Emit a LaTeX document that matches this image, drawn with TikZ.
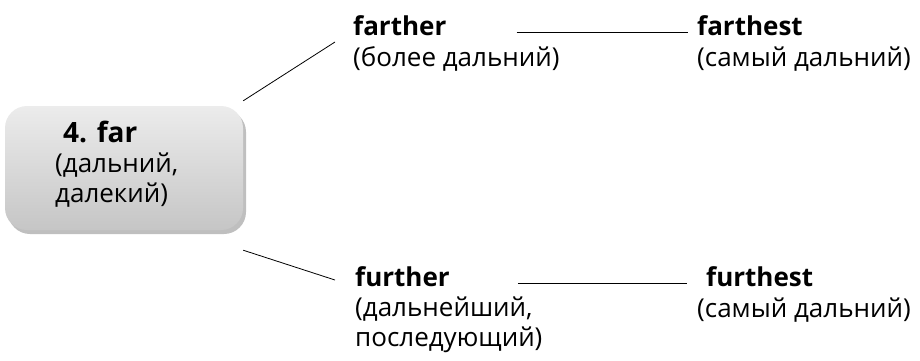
\documentclass[tikz,border=0pt]{standalone}
\usepackage{fontspec}
\setmainfont{Open Sans}
\usetikzlibrary{shadows}

\begin{document}
\begin{tikzpicture}[x=1pt,y=-1pt,
    word/.style={anchor=base west,inner sep=0pt,font=\fontsize{26}{30}\selectfont\bfseries},
    gloss/.style={anchor=base west,inner sep=0pt,align=left,font=\fontsize{26}{30}\selectfont},
    link/.style={line width=0.8pt},
    bar/.style={line width=1.6pt}]
        \useasboundingbox (0,0) rectangle (920,360);
        % adjective in the box
        \node[draw=none,rounded corners=22pt,top color=gray!15,bottom color=gray!45,
              drop shadow={shadow xshift=3pt,shadow yshift=-4pt,opacity=0.5},
              minimum width=238pt,minimum height=124pt] (far) at (124,168) {};
        \node[word,font=\fontsize{28}{30}\selectfont\bfseries] (farword) at (63,142) {4. far};
        \node[gloss] (fargloss) at (55,202) {(дальний,\\далекий)};
        % upper branch
        \node[word] (farther) at (353,35) {farther};
        \node[gloss] (farthergloss) at (353,66) {(более дальний)};
        \node[word] (farthest) at (697,35) {farthest};
        \node[gloss] (farthestgloss) at (697,66) {(самый дальний)};
        % lower branch
        \node[word] (further) at (355,286) {further};
        \node[gloss] (furthergloss) at (355,346) {(дальнейший,\\последующий)};
        \node[word] (furthest) at (706,286) {furthest};
        \node[gloss] (furthestgloss) at (697,317) {(самый дальний)};
        % connectors
        \draw[link] (far.north east) ++(0,-5) -- ([xshift=-18pt,yshift=-7pt]farther.base west);
        \draw[link] (far.south east) ++(0,20) -- ([xshift=-20pt,yshift=6pt]further.base west);
        \draw[bar,shorten <=70pt,shorten >=9pt] (farther.mid east) -- (farthest.mid west);
        \draw[bar,shorten <=68pt,shorten >=19pt] (further.mid east) -- (furthest.mid west);
\end{tikzpicture}
\end{document}
